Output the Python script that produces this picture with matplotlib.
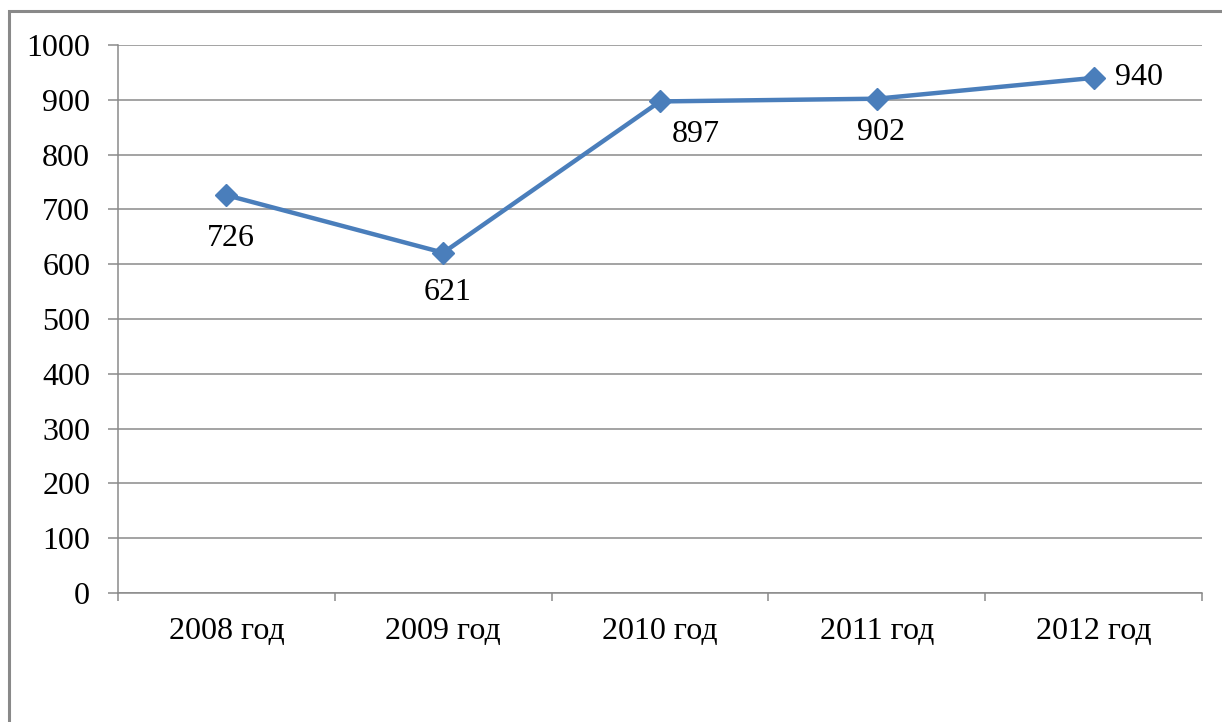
import matplotlib
matplotlib.use("Agg")
import matplotlib.pyplot as plt
from matplotlib.patches import Rectangle
import numpy as np

categories = ["2008 год", "2009 год", "2010 год", "2011 год", "2012 год"]
values = [726, 621, 897, 902, 940]
y_ticks = [0, 100, 200, 300, 400, 500, 600, 700, 800, 900, 1000]
# label offsets in points (dx, dy) relative to each point
label_offsets = [(3, -31), (3, -29), (26, -24), (3, -24), (33, 0)]

plt.rcParams['font.family'] = ['Liberation Serif', 'DejaVu Serif']

W, H = 1222, 722
fig = plt.figure(figsize=(W / 100, H / 100), dpi=100)
fig.patch.set_facecolor("white")

# outer frame
fig.patches.append(Rectangle((9 / W, -0.2), 1.5, (H - 11) / H + 0.2,
                             transform=fig.transFigure, fill=False,
                             edgecolor="#898989", linewidth=2.2))

ax = fig.add_axes([118 / W, 129 / H, 1084 / W, 548 / H])
x = np.arange(len(categories))
grey = "#8a8a8a"

ax.set_ylim(0, 1000)
ax.set_xlim(-0.5, len(categories) - 0.5)
ax.set_yticks(y_ticks)
ax.yaxis.grid(True, color=grey, linewidth=1.1)
ax.set_axisbelow(True)

for s in ["top", "right"]:
    ax.spines[s].set_visible(False)
ax.spines["left"].set_color(grey)
ax.spines["bottom"].set_color(grey)
ax.spines["left"].set_linewidth(1.1)
ax.spines["bottom"].set_linewidth(1.1)

ax.tick_params(axis="y", length=7, width=1.1, color=grey, pad=13, labelsize=23)
ax.set_xticks(np.arange(len(categories) + 1) - 0.5)
ax.set_xticklabels([])
ax.tick_params(axis="x", which="major", length=6, width=1.1, color=grey)
ax.set_xticks(x, minor=True)
ax.set_xticklabels(categories, minor=True)
ax.tick_params(axis="x", which="minor", length=0, pad=17, labelsize=23)

ax.plot(x, values, color="#4A7EBB", linewidth=3.2, marker="D", markersize=11,
        markerfacecolor="#4A7EBB", markeredgecolor="#4A7EBB", zorder=3)

for xi, v, (dx, dy) in zip(x, values, label_offsets):
    ax.annotate(str(v), (xi, v), xytext=(dx, dy), textcoords="offset points",
                ha="center", va="center", fontsize=23)

fig.savefig("out.png", dpi=100, facecolor="white")
